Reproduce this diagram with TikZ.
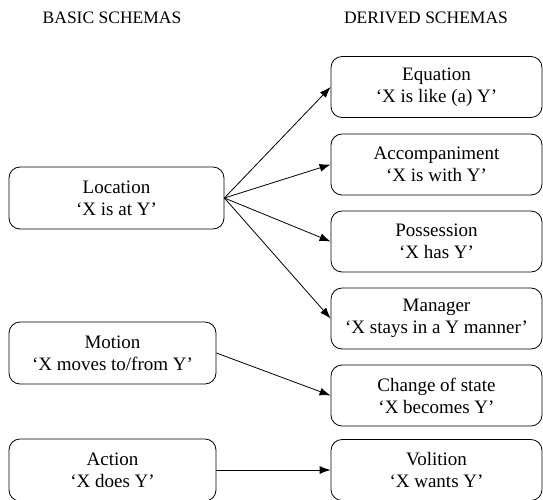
\documentclass[tikz,border=0pt]{standalone}
\usepackage{fontspec}
\setmainfont{Liberation Serif}
\usetikzlibrary{arrows.meta}
\begin{document}
\begin{tikzpicture}[x=1pt,y=-1pt,
  box/.style={draw, line width=0.8pt, rounded corners=11pt, align=center,
    font=\fontsize{19}{22}\selectfont, inner sep=0pt},
  rbox/.style={box, minimum width=211pt, minimum height=61pt},
  hdr/.style={font=\fontsize{17.5}{20}\selectfont},
  conn/.style={line width=0.8pt, -{Latex[length=11pt,width=8pt]}}]
\useasboundingbox (0,0) rectangle (543,499);
\node[hdr] (h1) at (112,18) {BASIC SCHEMAS};
\node[hdr] (h2) at (426,18) {DERIVED SCHEMAS};
\node[rbox] (eq) at (436.5,87) {Equation\\‘X is like (a) Y’};
\node[rbox] (acc) at (436.5,164.5) {Accompaniment\\‘X is with Y’};
\node[rbox] (pos) at (436.5,241.5) {Possession\\‘X has Y’};
\node[rbox] (man) at (436.5,318.5) {Manager\\‘X stays in a Y manner’};
\node[rbox] (chg) at (436.5,395.5) {Change of state\\‘X becomes Y’};
\node[rbox] (vol) at (436.5,470) {Volition\\‘X wants Y’};
\node[box, minimum width=215pt, minimum height=62pt] (loc) at (116.5,198) {Location\\‘X is at Y’};
\node[box, minimum width=207pt, minimum height=62pt] (mot) at (112.5,353) {Motion\\‘X moves to/from Y’};
\node[box, minimum width=207pt, minimum height=62pt] (act) at (112.5,470) {Action\\‘X does Y’};
\draw[conn] (loc.east) -- (eq.west);
\draw[conn] (loc.east) -- (acc.west);
\draw[conn] (loc.east) -- (pos.west);
\draw[conn] (loc.east) -- (man.west);
\draw[conn] (mot.east) -- (chg.west);
\draw[conn] (act.east) -- (vol.west);
\end{tikzpicture}
\end{document}
